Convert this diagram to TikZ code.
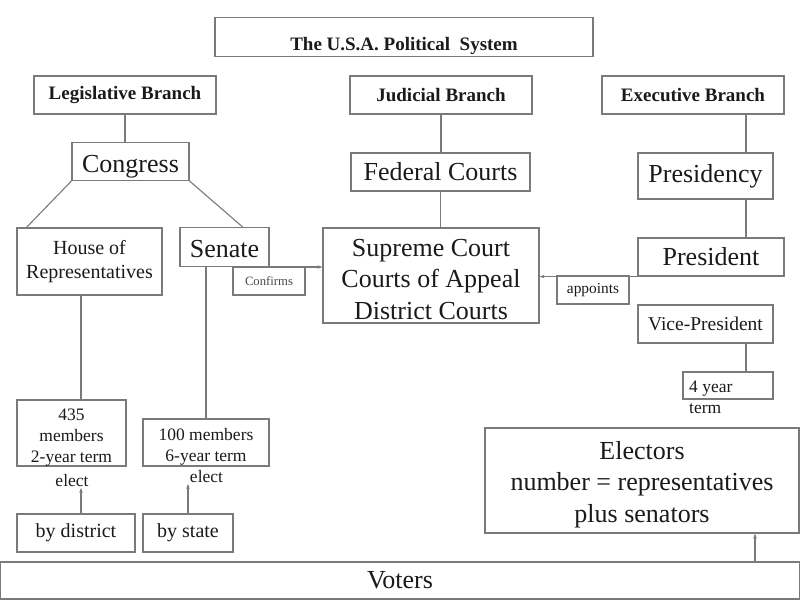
\documentclass[tikz,border=0pt]{standalone}
\usepackage{fontspec}
\setmainfont{Liberation Serif}
\usetikzlibrary{arrows.meta}
\definecolor{edge}{HTML}{7A7A7A}
\definecolor{ink}{HTML}{1A1A1A}
\newcommand{\toppad}[1]{\rule{0pt}{#1}}
\begin{document}
\begin{tikzpicture}[x=1pt,y=-1pt,
  box/.style={draw=edge,line width=1.1pt,inner sep=0pt,align=center,text=ink},
  fsz/.style 2 args={font=\fontsize{#1}{#2}\selectfont},
  bfs/.style={font=\fontsize{#1}{#1}\selectfont\bfseries},
  lbl/.style={inner sep=0pt,text=ink,align=center},
  conn/.style={draw=edge,line width=1.1pt},
  arr/.style={conn,-{Stealth[length=5pt,width=3.5pt]}},
]
\useasboundingbox (0,0) rectangle (800,600);
% helper coordinates for connector columns
\coordinate (ex) at (746,0);
\coordinate (hx) at (81,0);
\coordinate (el) at (755,0);
% top row
\node[box,bfs=19,minimum width=378pt,text height=33pt,text depth=6pt,anchor=south] (title) at (404,57) {The U.S.A. Political\ \ System};
\node[box,bfs=19,minimum width=182pt,minimum height=38pt] (leg) at (125,95) {Legislative Branch};
\node[box,bfs=19,minimum width=182pt,minimum height=38pt] (jud) at (441,95) {Judicial Branch};
\node[box,bfs=19,minimum width=182pt,minimum height=38pt] (exec) at (693,95) {Executive Branch};
% second row
\node[box,fsz={26}{31.5},minimum width=117pt,text height=30pt,text depth=8pt,anchor=south] (cong) at (130.5,181) {Congress};
\node[box,fsz={26}{31.5},minimum width=179pt,minimum height=38pt] (fed) at (440.5,172) {Federal Courts};
\node[box,fsz={26}{31.5},minimum width=135pt,minimum height=46pt] (presy) at (705.5,176) {Presidency};
% third row
\node[box,fsz={20}{24},minimum width=145pt,minimum height=67pt] (house) at (89.5,261.5) {House of\\Representatives};
\node[box,fsz={26}{31.5},minimum width=89pt,text height=30pt,text depth=9pt,anchor=south] (senate) at (224.5,267) {Senate};
\node[box,fsz={12.7}{15},minimum width=72pt,minimum height=28pt,text=ink!80] (conf) at (269,281) {Confirms};
\node[box,fsz={26}{31.5},minimum width=216pt,minimum height=95pt] (sup) at (431,275.5) {\toppad{24.5pt}Supreme Court\\Courts of Appeal\\District Courts};
\node[box,fsz={26}{31.5},minimum width=146pt,minimum height=38pt] (pres) at (711,257) {President};
\node[box,fsz={15.4}{18},minimum width=72pt,minimum height=28pt] (appt) at (593,290) {appoints};
\node[box,fsz={19.5}{23},minimum width=135pt,minimum height=38pt] (vp) at (705.5,324) {Vice-President};
\node[box,minimum width=90pt,minimum height=27pt] (year) at (728,385.5) {};
\node[lbl,fsz={17.5}{21},align=left,anchor=north west] (yeartxt) at (689,381) {4 year\\term};
% lower left
\node[box,fsz={17.5}{21},minimum width=109pt,minimum height=66pt] (m435) at (71.5,433) {\toppad{20pt}435\\members\\2-year term};
\node[box,fsz={17.5}{21.5},minimum width=126pt,minimum height=47pt] (m100) at (206,442.5) {\toppad{21pt}100 members\\6-year term};
\node[lbl,fsz={17.5}{21}] (elect1) at (72,480.5) {elect};
\node[lbl,fsz={17.5}{21}] (elect2) at (206.5,476.5) {elect};
\node[box,fsz={20}{24},minimum width=118pt,minimum height=38pt] (dist) at (76,533) {by district};
\node[box,fsz={20}{24},minimum width=90pt,minimum height=38pt] (state) at (188,533) {by state};
% electors and voters
\node[box,fsz={26}{31.5},minimum width=314pt,minimum height=105pt] (electors) at (642,480.5) {\toppad{26pt}Electors\\number = representatives\\plus senators};
\node[box,fsz={26}{31.5},minimum width=799pt,minimum height=37pt] (voters) at (400,580.5) {Voters};
% connectors
\draw[conn] (leg.south) -- (leg.south |- cong.north);
\draw[conn] (jud.south) -- (jud.south |- fed.north);
\draw[conn] (fed.south) -- (fed.south |- sup.north);
\draw[conn] (exec.south -| ex) -- (presy.north -| ex);
\draw[conn] (presy.south -| ex) -- (pres.north -| ex);
\draw[conn] (vp.south -| ex) -- (year.north -| ex);
\draw[conn] (cong.south west) -- ([xshift=10pt]house.north west);
\draw[conn] (cong.south east) -- ([xshift=-27pt]senate.north east);
\draw[conn] (house.south -| hx) -- (m435.north -| hx);
\draw[conn] (senate.south -| m100.north) -- (m100.north);
\draw[arr] (dist.north -| hx) -- ([yshift=-1pt]elect1.south -| hx);
\draw[arr] (state.north) -- ([yshift=-1pt]state.north |- elect2.south);
\draw[arr] (senate.south east) -- (senate.south east -| sup.west);
\draw[arr] (pres.south west) -- (pres.south west -| sup.east);
\draw[arr] (voters.north -| el) -- (electors.south -| el);
\end{tikzpicture}
\end{document}
